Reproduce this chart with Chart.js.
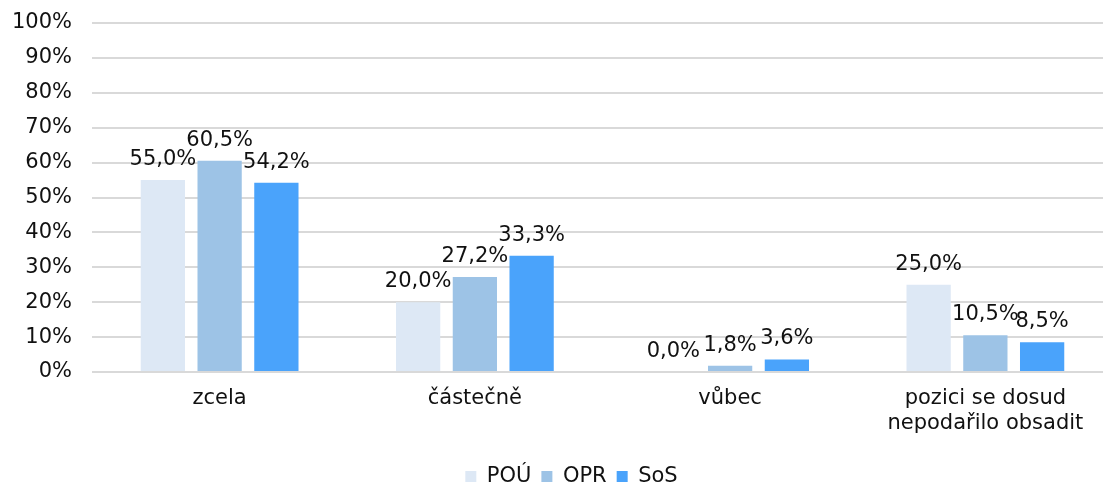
<!DOCTYPE html>
<html>
<head>
<meta charset="utf-8">
<script src="https://cdn.jsdelivr.net/npm/chart.js@4/dist/chart.umd.min.js"></script>
<style>
    html, body { margin: 0; padding: 0; background: #fff; overflow: hidden; }
    #wrap { width: 1113px; height: 497px; }
</style>
</head>
<body>
<div id="wrap"><canvas id="myChart"></canvas></div>
<script>
// ---------- DATA ----------
const categories = ["zcela", "částečně", "vůbec", ["pozici se dosud", "nepodařilo obsadit"]];
const seriesNames = ["POÚ", "OPR", "SoS"];
const pouValues = [55.0, 20.0, 0.0, 25.0];
const oprValues = [60.5, 27.2, 1.8, 10.5];
const sosValues = [54.2, 33.3, 3.6, 8.5];
const yTicks = [0, 10, 20, 30, 40, 50, 60, 70, 80, 90, 100];

const colors = ['#dde8f5', '#9dc3e6', '#4aa3fb'];
const FONT = "'DejaVu Sans', Verdana, sans-serif";
const FS = 21;

// value labels above bars, Czech decimal comma
const valueLabels = {
    id: 'valueLabels',
    afterDatasetsDraw(chart) {
        const ctx = chart.ctx;
        ctx.save();
        ctx.font = FS + 'px ' + FONT;
        ctx.fillStyle = '#111';
        ctx.textAlign = 'center';
        ctx.textBaseline = 'alphabetic';
        chart.data.datasets.forEach((ds, i) => {
            const meta = chart.getDatasetMeta(i);
            meta.data.forEach((bar, j) => {
                const txt = ds.data[j].toFixed(1).replace('.', ',') + '%';
                ctx.fillText(txt, bar.x, bar.y - 15);
            });
        });
        ctx.restore();
    }
};

// nudge the legend a bit to the right, like in the original
const shiftLegend = {
    id: 'shiftLegend',
    afterLayout(chart) {
        if (!chart.legend) return;
        chart.legend.left += 15;
        chart.legend.right += 15;
    }
};

const ctx = document.getElementById("myChart").getContext("2d");

new Chart(ctx, {
    type: 'bar',
    data: {
        labels: categories,
        datasets: [
            { label: seriesNames[0], data: pouValues, backgroundColor: colors[0] },
            { label: seriesNames[1], data: oprValues, backgroundColor: colors[1] },
            { label: seriesNames[2], data: sosValues, backgroundColor: colors[2] }
        ]
    },
    options: {
        responsive: true,
        maintainAspectRatio: false,
        animation: false,
        layout: { padding: { top: 23, right: 0, left: 0, bottom: 0 } },
        datasets: {
            bar: { categoryPercentage: 0.667, barPercentage: 0.78 }
        },
        scales: {
            x: {
                afterFit: scale => { scale.height = 84; },
                grid: { display: false, drawTicks: false },
                border: { display: false },
                ticks: {
                    color: '#111',
                    font: { family: FONT, size: FS },
                    padding: 14,
                    maxRotation: 0,
                    autoSkip: false
                }
            },
            y: {
                min: 0,
                max: 100,
                afterFit: scale => {
                    scale.width = 92;
                    scale.paddingTop = 0;
                    scale.paddingBottom = 0;
                },
                afterBuildTicks: scale => { scale.ticks = yTicks.map(v => ({ value: v })); },
                grid: { color: '#d9d9d9', lineWidth: 2, drawTicks: false },
                border: { display: false },
                ticks: {
                    color: '#111',
                    font: { family: FONT, size: FS },
                    padding: 20,
                    callback: v => v + '%'
                }
            }
        },
        plugins: {
            legend: {
                position: 'bottom',
                labels: {
                    color: '#111',
                    font: { family: FONT, size: FS },
                    boxWidth: 11,
                    boxHeight: 11,
                    padding: 10
                }
            },
            tooltip: { enabled: false }
        }
    },
    plugins: [valueLabels, shiftLegend]
});
</script>
</body>
</html>
